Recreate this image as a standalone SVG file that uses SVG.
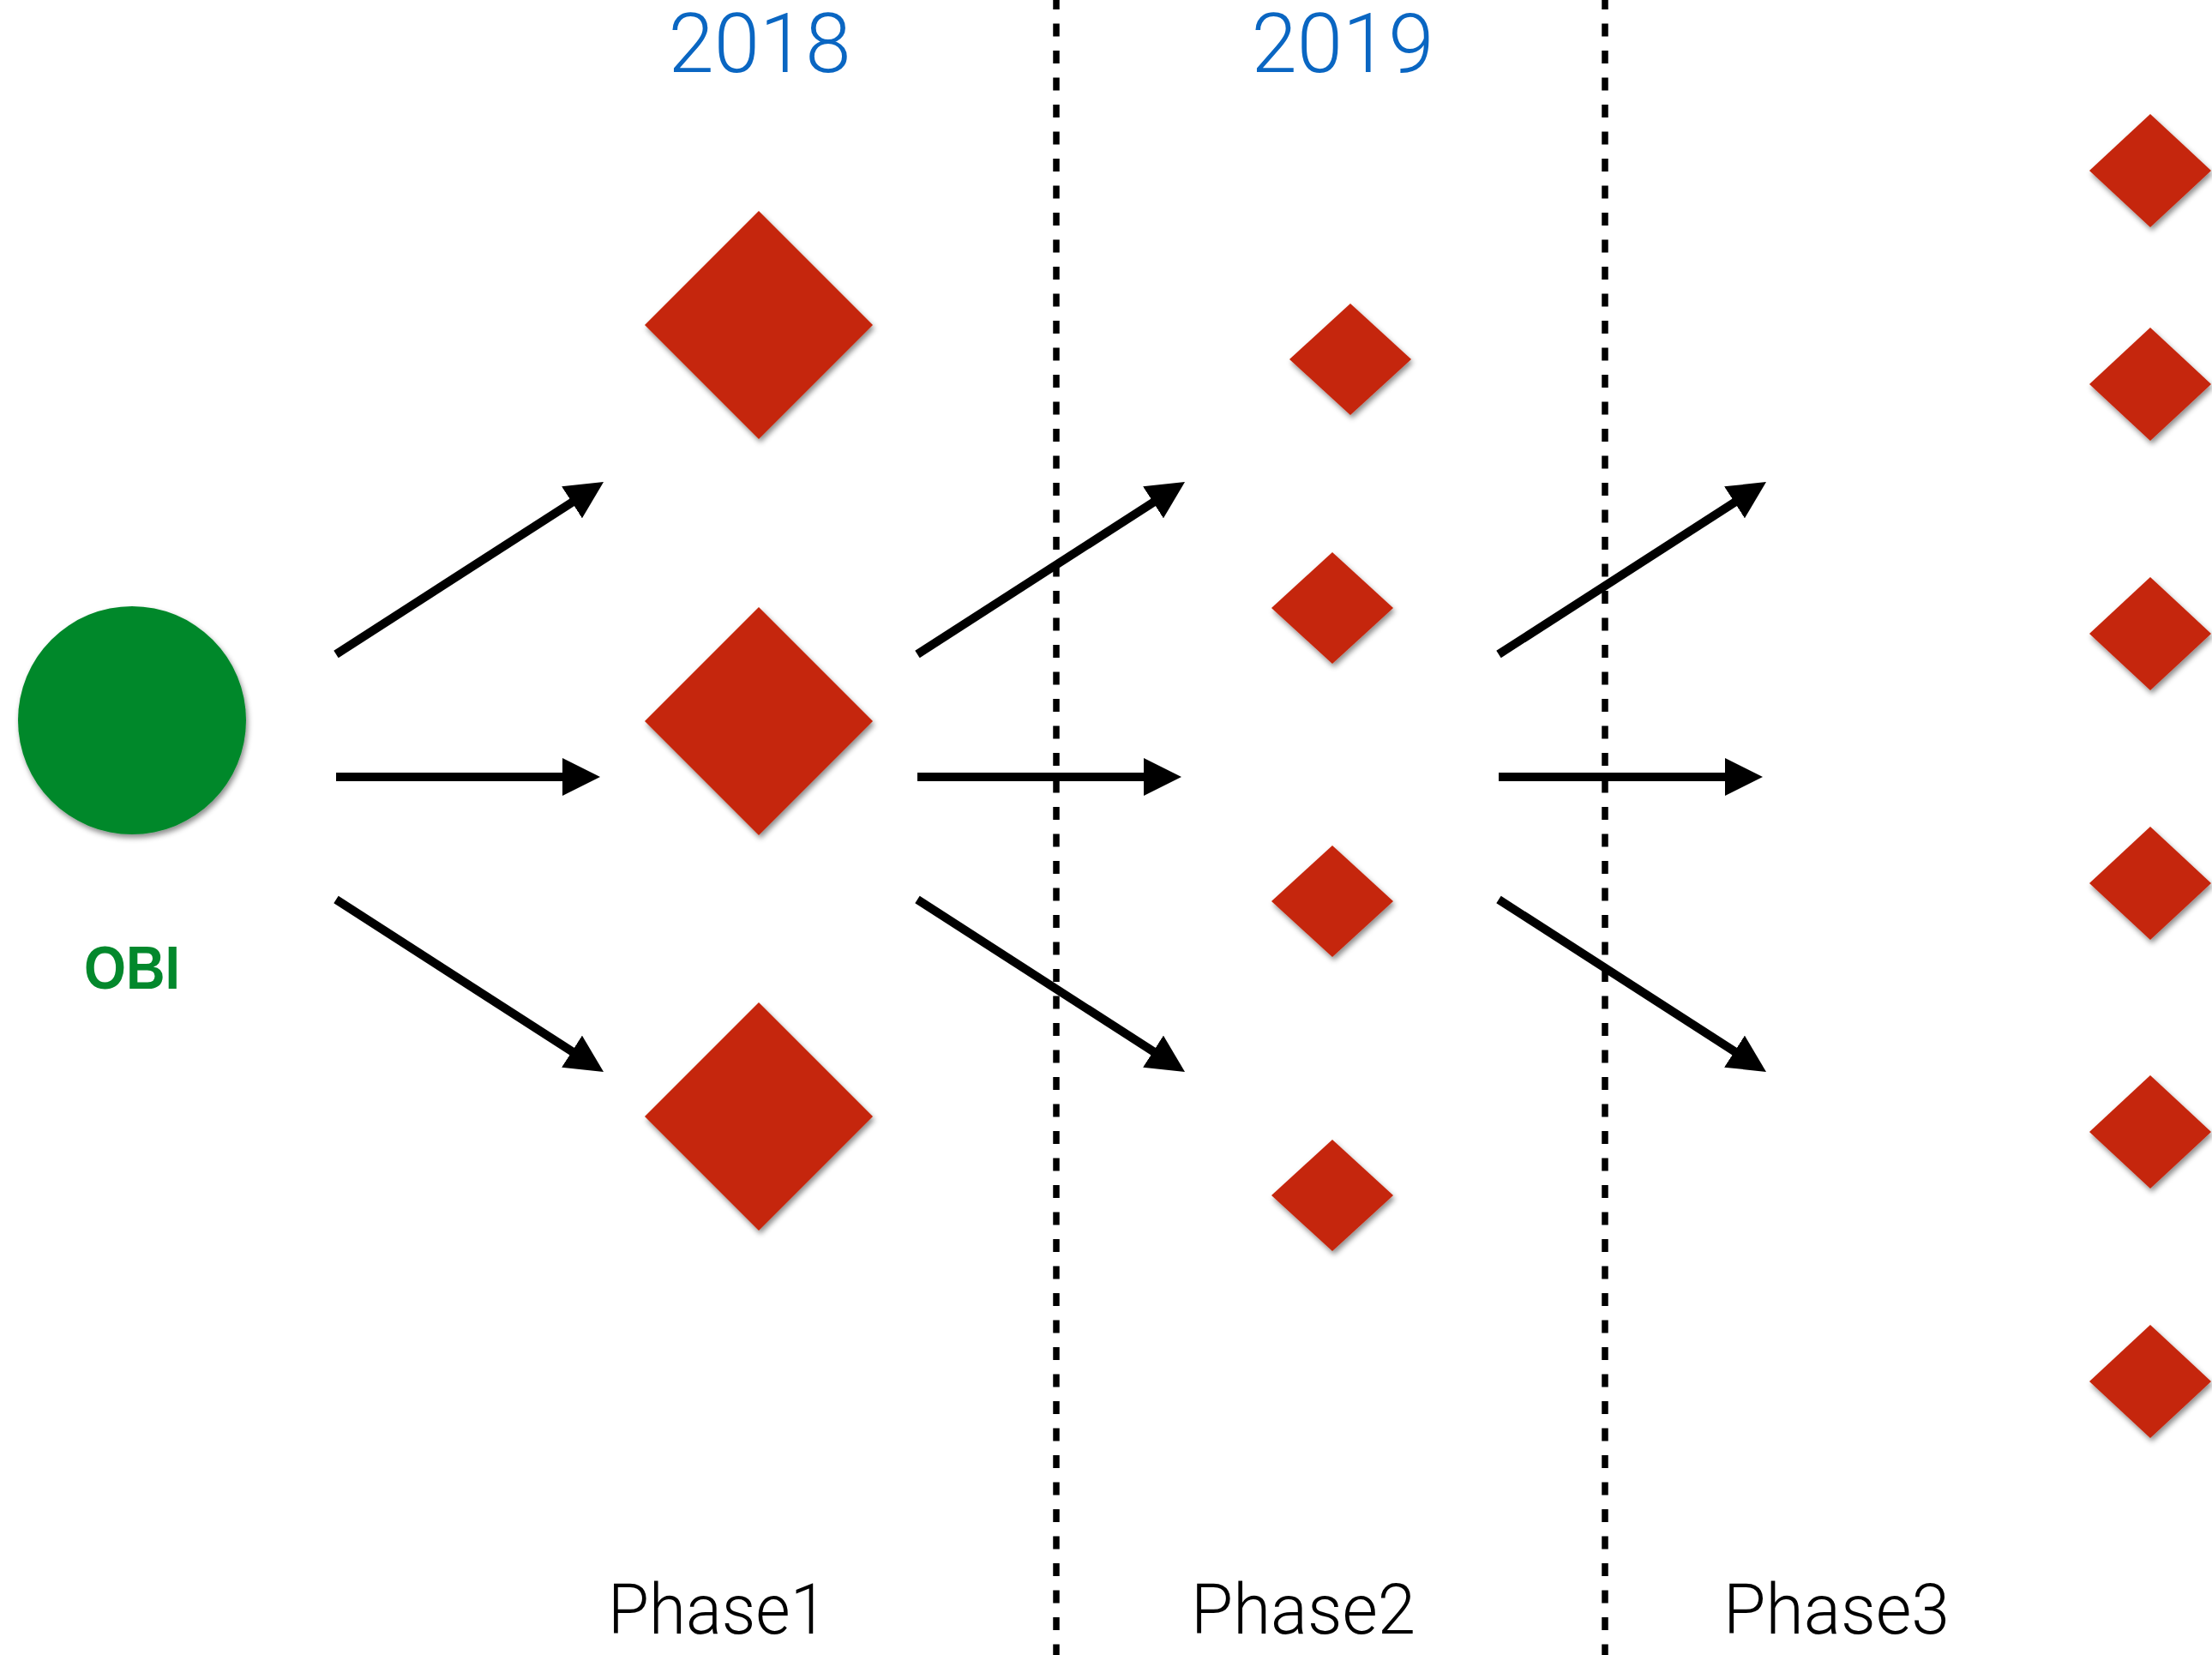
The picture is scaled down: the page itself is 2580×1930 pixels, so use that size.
<svg xmlns="http://www.w3.org/2000/svg" width="2580" height="1930" viewBox="0 0 2580 1930">
<style>
.dia{fill:#c5250a;filter:url(#sh)}
.conn{stroke:#000;stroke-width:10;fill:none;marker-end:url(#ah)}
.sep{stroke:#000;stroke-width:7.5;stroke-dasharray:15 16.5;fill:none}
.year{font-family:Roboto,"Liberation Sans",sans-serif;font-weight:300;font-size:96px;fill:#0a66c2;text-anchor:middle}
.phase{font-family:Roboto,"Liberation Sans",sans-serif;font-weight:300;font-size:81px;fill:#000}
</style>
<defs>
<filter id="sh" x="-20%" y="-20%" width="150%" height="150%">
<feDropShadow dx="2" dy="4" stdDeviation="3" flood-color="#000" flood-opacity="0.45"/>
</filter>
<marker id="ah" markerUnits="userSpaceOnUse" viewBox="0 0 44 44" markerWidth="44" markerHeight="44" refX="4" refY="22" orient="auto">
<path d="M0,0 L44,22 L0,44 z" fill="#000"/>
</marker>
</defs>
<rect width="2580" height="1930" fill="#fff"/>
<g id="separators">
<line class="sep" x1="1232" y1="-4" x2="1232" y2="1930"/>
<line class="sep" x1="1872" y1="-4" x2="1872" y2="1930"/>
</g>
<text class="year" x="886" y="84">2018</text>
<text class="year" x="1566" y="84">2019</text>
<g id="obi">
<circle cx="154" cy="840" r="133" fill="#03882c" filter="url(#sh)"/>
<text x="154" y="1153" font-family="'Liberation Sans',Arial,sans-serif" font-weight="bold" font-size="70" fill="#03882c" text-anchor="middle" textLength="112" lengthAdjust="spacingAndGlyphs">OBI</text>
</g>
<g id="phase1-nodes">
<polygon id="p1a" class="dia" points="885,246 1018,379 885,512 752,379"/>
<polygon id="p1b" class="dia" points="885,708 1018,841 885,974 752,841"/>
<polygon id="p1c" class="dia" points="885,1169 1018,1302 885,1435 752,1302"/>
</g>
<g id="phase2-nodes">
<polygon id="p2a" class="dia" points="1575,354 1646,419 1575,484 1504,419"/>
<polygon id="p2b" class="dia" points="1554,644 1625,709 1554,774 1483,709"/>
<polygon id="p2c" class="dia" points="1554,986 1625,1051 1554,1116 1483,1051"/>
<polygon id="p2d" class="dia" points="1554,1329 1625,1394 1554,1459 1483,1394"/>
</g>
<g id="phase3-nodes">
<polygon id="p3a" class="dia" points="2508,133 2579,199 2508,265 2437,199"/>
<polygon id="p3b" class="dia" points="2508,382 2579,448 2508,514 2437,448"/>
<polygon id="p3c" class="dia" points="2508,673 2579,739 2508,805 2437,739"/>
<polygon id="p3d" class="dia" points="2508,964 2579,1030 2508,1096 2437,1030"/>
<polygon id="p3e" class="dia" points="2508,1254 2579,1320 2508,1386 2437,1320"/>
<polygon id="p3f" class="dia" points="2508,1545 2579,1611 2508,1677 2437,1611"/>
</g>
<g id="connectors">
<line class="conn" x1="392" y1="763" x2="670.4" y2="583.7"/>
<line class="conn" x1="392" y1="906" x2="660" y2="906"/>
<line class="conn" x1="392" y1="1049" x2="670.4" y2="1228.3"/>
<line class="conn" x1="1070" y1="763" x2="1348.4" y2="583.7"/>
<line class="conn" x1="1070" y1="906" x2="1338" y2="906"/>
<line class="conn" x1="1070" y1="1049" x2="1348.4" y2="1228.3"/>
<line class="conn" x1="1748" y1="763" x2="2026.4" y2="583.7"/>
<line class="conn" x1="1748" y1="906" x2="2016" y2="906"/>
<line class="conn" x1="1748" y1="1049" x2="2026.4" y2="1228.3"/>
</g>
<text class="phase" x="709" y="1905" textLength="256" lengthAdjust="spacingAndGlyphs">Phase1</text>
<text class="phase" x="1389" y="1905" textLength="262" lengthAdjust="spacingAndGlyphs">Phase2</text>
<text class="phase" x="2010" y="1905" textLength="264" lengthAdjust="spacingAndGlyphs">Phase3</text>
</svg>
